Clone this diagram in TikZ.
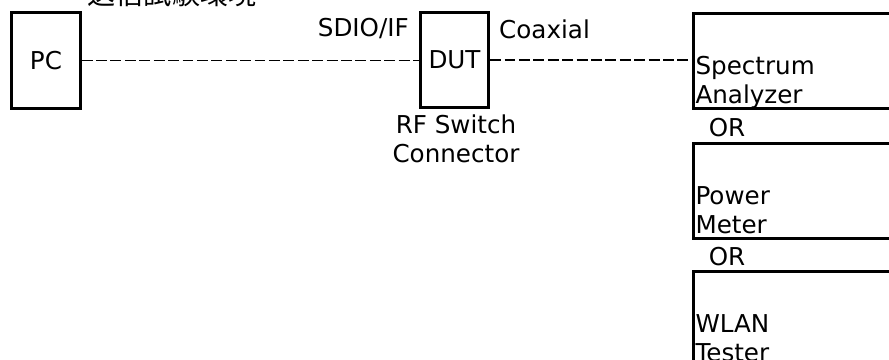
\documentclass[tikz,border=0pt]{standalone}
\usepackage{fontspec}
\setmainfont{DejaVu Sans}
\newfontfamily\jpfont{Noto Sans CJK JP}
\usetikzlibrary{positioning}

\begin{document}
\begin{tikzpicture}[
    every node/.style={font=\fontsize{14}{16.5}\selectfont},
    box/.style={draw,line width=1.6pt,minimum width=1.37cm,
                minimum height=1.91cm,inner sep=0pt},
    inst/.style={draw,line width=1.6pt,minimum width=4.6cm,
                 minimum height=1.90cm,anchor=north west},
    link/.style={line width=0.9pt,dash pattern=on 6.2pt off 2pt},
    tag/.style={anchor=south west,align=left,inner xsep=1.8pt,
                inner ysep=0.5pt,text depth=0.1cm},
  ]
  \useasboundingbox (0,0) rectangle (17.78,-7.2);
  \clip (0,0) rectangle (17.78,-7.2);

  \node[font=\jpfont\fontsize{16}{19}\selectfont,anchor=base] (title)
    at (3.44,-0.10) {送信試験環境};

  \node[box] (pc) at (0.92,-1.21) {PC};
  \node[box] (dut) at (9.09,-1.20) {DUT};
  \node[anchor=east] (sdio) at (8.30,-0.58) {SDIO/IF};
  \node[anchor=west] (coax) at (9.86,-0.58) {Coaxial};
  \node[align=center] (rfsw) at (9.12,-2.77) {RF Switch\\Connector};

  \node[inst,label={[tag]south west:Spectrum\\Analyzer}] (sa) at (13.84,-0.24) {};
  \node (or1) at (14.54,-2.56) {OR};
  \node[inst,label={[tag]south west:Power\\Meter}] (pm) at (13.84,-2.84) {};
  \node (or2) at (14.54,-5.14) {OR};
  \node[inst,label={[tag]south west:WLAN\\Tester}] (wt) at (13.84,-5.40) {};

  \draw[link] (pc.east) -- (pc.east -| dut.west);
  \draw[link] (dut.east) -- (dut.east -| sa.west);
\end{tikzpicture}
\end{document}
